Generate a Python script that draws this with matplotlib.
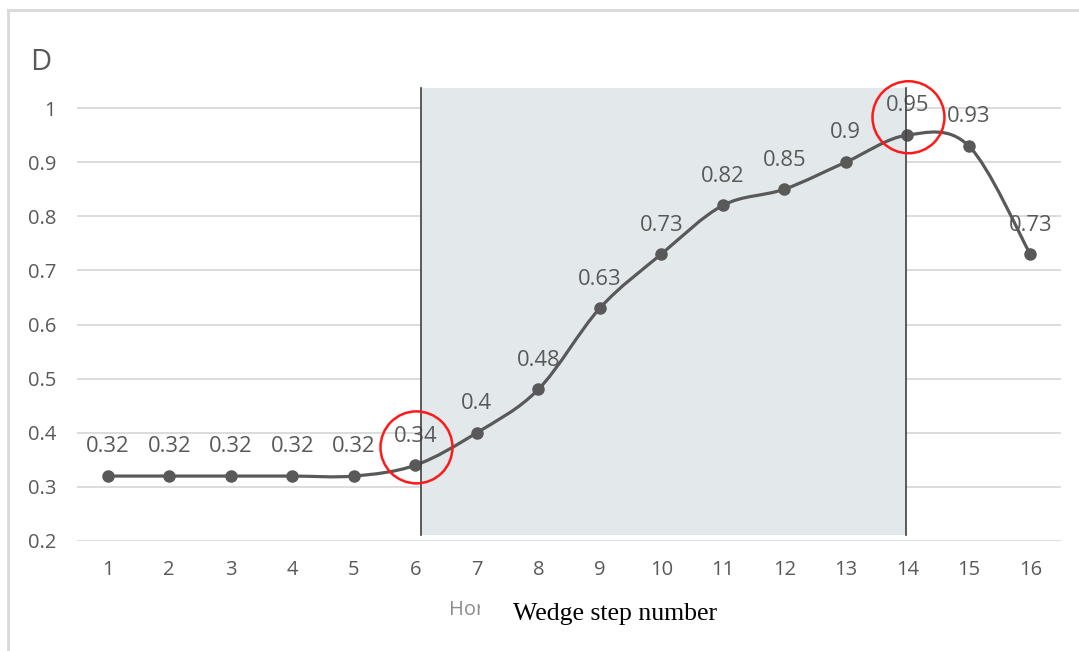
import numpy as np
import matplotlib.pyplot as plt
from matplotlib.path import Path
from matplotlib.patches import PathPatch, Ellipse, Rectangle
from matplotlib.lines import Line2D

plt.rcParams['font.family'] = ['Open Sans', 'DejaVu Sans']

steps = list(range(1, 17))
d_values = [0.32, 0.32, 0.32, 0.32, 0.32, 0.34, 0.40, 0.48,
            0.63, 0.73, 0.82, 0.85, 0.90, 0.95, 0.93, 0.73]
y_ticks = [0.2, 0.3, 0.4, 0.5, 0.6, 0.7, 0.8, 0.9, 1.0]
y_tick_labels = ['0.2', '0.3', '0.4', '0.5', '0.6', '0.7', '0.8', '0.9', '1']
band = (6.1, 13.98)
marked_steps = [6, 14]

GRAY = '#595959'


def smooth_path(x, y):
    # Bezier curve through every point, Excel "smoothed line" style
    pts = np.column_stack([x, y]).astype(float)
    padded = np.vstack([pts[0], pts, pts[-1]])
    verts = [pts[0]]
    codes = [Path.MOVETO]
    for i in range(len(pts) - 1):
        p0, p1, p2, p3 = padded[i], padded[i + 1], padded[i + 2], padded[i + 3]
        verts += [p1 + (p2 - p0) / 6, p2 - (p3 - p1) / 6, p2]
        codes += [Path.CURVE4] * 3
    return Path(verts, codes)


fig = plt.figure(figsize=(10.79, 6.51), dpi=100)
ax = fig.add_axes([77 / 1079, 110 / 651, 984 / 1079, 454.6 / 651])
ax.set_xlim(0.5, 16.5)
ax.set_ylim(0.2, 1.04)

ax.set_yticks(y_ticks)
ax.set_yticklabels(y_tick_labels)
ax.set_xticks(steps)
ax.tick_params(length=0, labelsize=14.5, labelcolor=GRAY)
ax.tick_params(axis='x', pad=14)
ax.tick_params(axis='y', pad=15)
for s in ax.spines.values():
    s.set_visible(False)
ax.set_axisbelow(True)
ax.grid(axis='y', color='#d9d9d9', lw=1.3, zorder=0)

# shaded region between the two vertical markers
ax.add_patch(Rectangle((band[0], 0.211), band[1] - band[0], 1.037 - 0.211,
                       facecolor='#e3e8eb', edgecolor='none', zorder=1))

ax.add_patch(PathPatch(smooth_path(steps, d_values), facecolor='none',
                       edgecolor=GRAY, lw=2.3, zorder=3, capstyle='round'))
ax.plot(steps, d_values, 'o', color=GRAY, ms=8, zorder=4)

for x, v in zip(steps, d_values):
    ax.annotate(f'{v:g}', (x, v), xytext=(0, 21), textcoords='offset points',
                ha='center', va='center', fontsize=15.8, color=GRAY, zorder=5)

for bx in band:
    ax.plot([bx, bx], [0.211, 1.037], color='#404040', lw=1.2, zorder=6)

for s in marked_steps:
    v = d_values[steps.index(s)]
    ax.add_patch(Ellipse((s + 0.02, v + 0.033), 72 / 61.53, 72 / 541.25,
                         facecolor='none', edgecolor='#ff1a1a', lw=1.8,
                         zorder=7, clip_on=False))

fig.text(41 / 1079, 1 - 63 / 651, 'D', fontsize=21, color=GRAY,
         ha='center', va='center')

# axis title, partly covered by the overlaid caption
fig.text(449 / 1079, 1 - 610 / 651, 'Hor', fontsize=14.5, color='#8c8c8c',
         ha='left', va='center', zorder=1)
fig.patches.append(Rectangle((480 / 1079, 1 - 645 / 651), 280 / 1079, 52 / 651,
                             transform=fig.transFigure, facecolor='white',
                             edgecolor='none', zorder=2))
fig.text(615 / 1079, 1 - 614 / 651, 'Wedge step number', fontsize=18.5,
         family='Liberation Serif', color='black', ha='center', va='center',
         zorder=3)

# frame around the chart
fig.lines.append(Line2D([8 / 1079, 1.0], [1 - 10 / 651] * 2,
                        transform=fig.transFigure, color='#d9d9d9', lw=2))
fig.lines.append(Line2D([8 / 1079] * 2, [0.0, 1 - 10 / 651],
                        transform=fig.transFigure, color='#d9d9d9', lw=2))

fig.savefig('out.png', dpi=100)
